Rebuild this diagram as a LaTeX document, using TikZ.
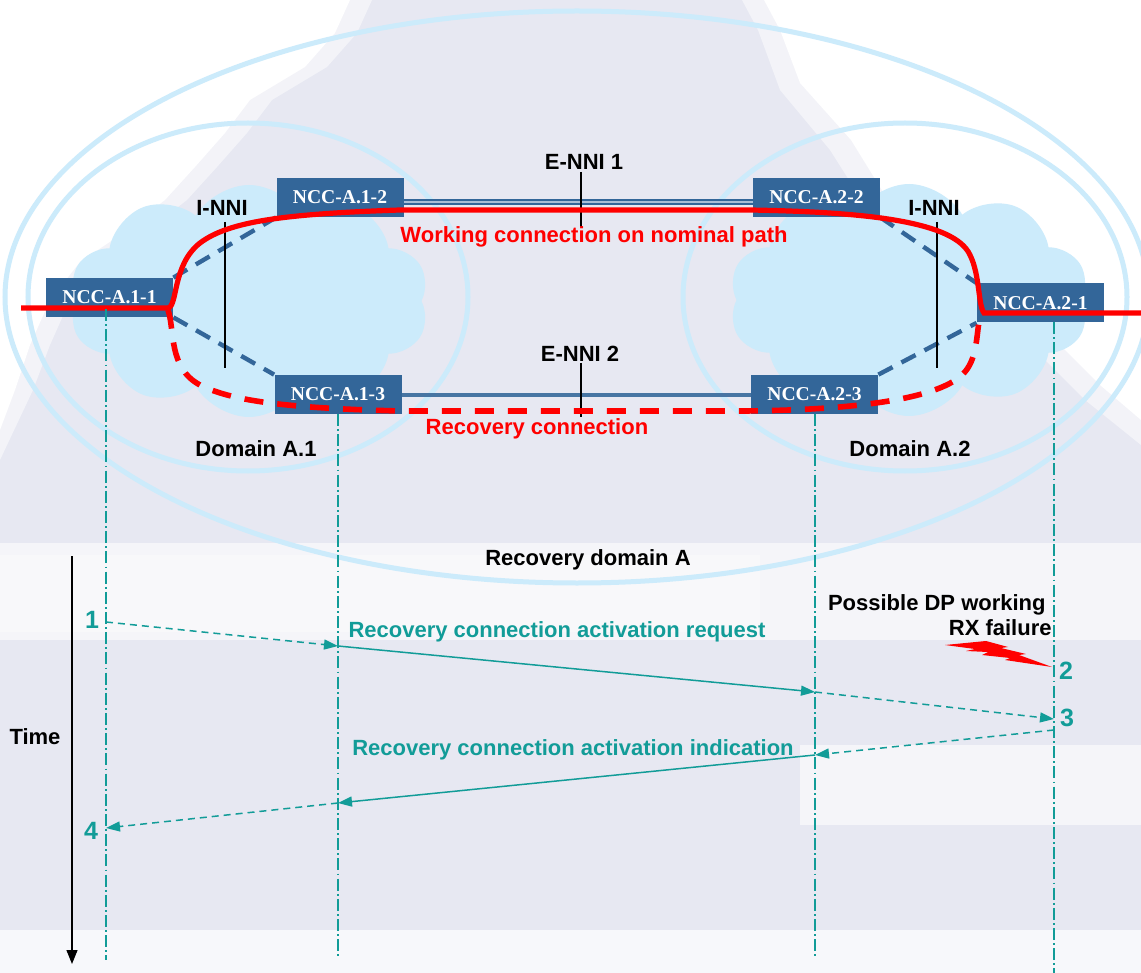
\documentclass[tikz,border=0pt]{standalone}
\usepackage{fontspec}
\setmainfont{Liberation Sans}
\newfontfamily\boxfont{Liberation Serif}
\usetikzlibrary{arrows.meta,shapes.symbols}
\definecolor{bgcol}{HTML}{E7E8F2}
\definecolor{domainblue}{HTML}{CCEBFB}
\definecolor{cloudblue}{HTML}{CCEBFB}
\definecolor{nccblue}{HTML}{336699}
\definecolor{ennilight}{HTML}{A9BED6}
\definecolor{linkred}{HTML}{FF0000}
\definecolor{msgteal}{HTML}{129C98}
\begin{document}
\begin{tikzpicture}[x=0.5pt,y=-0.5pt,
  ncc/.style={fill=nccblue,text=white,font=\boxfont\bfseries\fontsize{9.8}{11}\selectfont,
    minimum width=63.5pt,minimum height=19.5pt,inner sep=0pt},
  lbl/.style={font=\bfseries\fontsize{11}{13}\selectfont,inner sep=0pt,text height=7.9pt,text depth=0pt},
  redlbl/.style={lbl,text=linkred},
  msglbl/.style={lbl,text=msgteal},
  num/.style={font=\bfseries\fontsize{12.5}{14}\selectfont,text=msgteal,inner sep=0pt,text height=9pt,text depth=0pt},
  domainring/.style={draw=domainblue,line width=2.5pt},
  cloudbg/.style={cloud,cloud puffs=10,cloud puff arc=120,aspect=1.6,fill=cloudblue,draw=none,
    minimum width=180pt,minimum height=116pt,inner sep=0pt},
  ctrl/.style={draw=nccblue,line width=2.2pt,dash pattern=on 8pt off 5pt},
  working/.style={draw=linkred,line width=2.6pt},
  recovery/.style={draw=linkred,line width=2.8pt,dash pattern=on 9.5pt off 7pt},
  tickline/.style={draw=black,line width=0.8pt},
  lifeline/.style={draw=msgteal,line width=0.7pt,dash pattern=on 6pt off 1.6pt on 0.9pt off 1.6pt},
  msg/.style={draw=msgteal,line width=0.75pt,-{Triangle[length=7pt,width=5pt]}},
  hop/.style={msg,dash pattern=on 3.5pt off 2.5pt},
]
\useasboundingbox (0,0) rectangle (1141,973);

% background with soft white areas
\fill[bgcol] (0,0) rectangle (1141,973);
\fill[white,opacity=0.5] (0,0) -- (372,0) -- (357,33) -- (327,67) -- (272,100) -- (247,133) -- (217,167)
  -- (187,200) -- (142,235) -- (100,262) -- (70,300) -- (50,345) -- (33,390) -- (0,460) -- cycle;
\fill[white] (0,0) -- (350,0) -- (335,33) -- (305,67) -- (250,100) -- (225,133) -- (195,167)
  -- (165,200) -- (120,235) -- (80,262) -- (50,300) -- (30,345) -- (15,390) -- (0,430) -- cycle;
\fill[white,opacity=0.5] (742,0) -- (1141,0) -- (1141,445) -- (1085,400) -- (1045,360) -- (1005,325)
  -- (925,255) -- (868,210) -- (830,150) -- (780,90) -- (758,30) -- cycle;
\fill[white] (764,0) -- (1141,0) -- (1141,420) -- (1100,385) -- (1060,345) -- (1020,310)
  -- (940,240) -- (888,200) -- (851,140) -- (800,83) -- (780,30) -- cycle;
\fill[white,opacity=0.6] (0,543) rectangle (1141,640);
\fill[white,opacity=0.3] (0,555) rectangle (760,632);
\fill[white,opacity=0.6] (800,745) rectangle (1141,825);
\fill[white,opacity=0.7] (0,930) rectangle (1141,973);

% recovery domain and sub-domains
\draw[domainring] (577,297) ellipse [x radius=572, y radius=286];
\draw[domainring] (248,297) ellipse [x radius=220, y radius=174];
\draw[domainring] (905,297) ellipse [x radius=222, y radius=174];
\node[cloudbg] (cloud1) at (249,301) {};
\node[cloudbg] (cloud2) at (909,300) {};

% network control components (placed first so the links can reach them)
\path (109.5,297.5) coordinate (a11c) (340,197.5) coordinate (a12c) (338,394.5) coordinate (a13c)
      (816.5,197.5) coordinate (a22c) (814.5,394.5) coordinate (a23c) (1040.5,303) coordinate (a21c);
\path node[ncc,fill=none,text=white!0] (a11) at (a11c) {NCC-A.1-1}
      node[ncc,fill=none,text=white!0] (a12) at (a12c) {NCC-A.1-2}
      node[ncc,fill=none,text=white!0] (a13) at (a13c) {NCC-A.1-3}
      node[ncc,fill=none,text=white!0] (a22) at (a22c) {NCC-A.2-2}
      node[ncc,fill=none,text=white!0] (a23) at (a23c) {NCC-A.2-3}
      node[ncc,fill=none,text=white!0] (a21) at (a21c) {NCC-A.2-1};

% intra-domain control links
\draw[ctrl] (a11.north east) -- (a12.south west);
\draw[ctrl] (a11.south east) -- (a13.north west);
\draw[ctrl] (a22.south east) -- (a21.north west);
\draw[ctrl] (a23.north east) -- (a21.south west);

% boxes drawn over the dashed links
\node[ncc] at (a11c) {NCC-A.1-1};
\node[ncc] at (a12c) {NCC-A.1-2};
\node[ncc] at (a13c) {NCC-A.1-3};
\node[ncc] at (a22c) {NCC-A.2-2};
\node[ncc] at (a23c) {NCC-A.2-3};
\node[ncc] at (a21c) {NCC-A.2-1};

% inter-domain links
\draw[draw=nccblue,line width=1.1pt,double=ennilight,double distance=0.9pt]
  ([yshift=-2.25pt]a12.east) -- ([yshift=-2.25pt]a22.west);
\draw[draw=nccblue!90!white,line width=2pt] (a13.east) -- (a23.west);

% interface markers
\coordinate (e1t) at (581,172); \coordinate (e1b) at (581,227);
\coordinate (e2t) at (581,363); \coordinate (e2b) at (581,417);
\coordinate (i1t) at (225,222); \coordinate (i1b) at (225,368);
\coordinate (i2t) at (937,222); \coordinate (i2b) at (937,368);
\draw[tickline] (e1t) -- (e1b);
\draw[tickline] (e2t) -- (e2b);
\draw[tickline] (i1t) -- (i1b);
\draw[tickline] (i2t) -- (i2b);

% working and recovery connections
\coordinate (wsrc) at (21,308);
\coordinate (wdst) at (1141,313);
\draw[working] (wsrc) -- (168,308)
  .. controls (178,306) and (172,265) .. (200,243)
  .. controls (228,222) and (280,214) .. (400,210) -- (750,210)
  .. controls (870,212) and (955,222) .. (970,255)
  .. controls (980,275) and (978,305) .. (984,313) -- (wdst);
\draw[recovery] (168,310)
  .. controls (175,330) and (168,368) .. (200,385)
  .. controls (230,400) and (280,408) .. (400,411) -- (745,411)
  .. controls (850,410) and (935,400) .. (962,375)
  .. controls (978,360) and (976,335) .. (980,316);

% labels of the network part
\node[lbl] (lenni1) at (584,162) {E-NNI 1};
\node[lbl] (lenni2) at (580,354) {E-NNI 2};
\node[lbl] (linni1) at (222,208) {I-NNI};
\node[lbl] (linni2) at (934,208) {I-NNI};
\node[redlbl] (lwork) at (594,235) {Working connection on nominal path};
\node[redlbl] (lrec) at (537,427) {Recovery connection};
\node[lbl] (ldom1) at (256,449) {Domain A.1};
\node[lbl] (ldom2) at (910,449) {Domain A.2};
\node[lbl] (lrdom) at (588,558) {Recovery domain A};

% lifelines
\coordinate (l1t) at (106,309);  \coordinate (l1b) at (106,960);
\coordinate (l2t) at (338,414);  \coordinate (l2b) at (338,958);
\coordinate (l3t) at (815,414);  \coordinate (l3b) at (815,958);
\coordinate (l4t) at (1054,322); \coordinate (l4b) at (1054,973);
\draw[lifeline] (l1t) -- (l1b);
\draw[lifeline] (l2t) -- (l2b);
\draw[lifeline] (l3t) -- (l3b);
\draw[lifeline] (l4t) -- (l4b);

% time axis
\coordinate (tt) at (72,556); \coordinate (tb) at (72,964);
\draw[line width=0.6pt,-{Triangle[length=7pt,width=5.5pt]}] (tt) -- (tb);
\node[lbl] (ltime) at (35,737) {Time};

% message sequence
\coordinate (m1s) at (106,622);
\coordinate (m1e) at (338,646);
\coordinate (m2e) at (815,692);
\coordinate (m3e) at (1054,719);
\coordinate (m4s) at (1054,730);
\coordinate (m4e) at (815,755);
\coordinate (m5e) at (338,803);
\coordinate (m6e) at (106,828);
\draw[hop] (m1s) -- (m1e);
\draw[msg] (m1e) -- (m2e);
\draw[hop] (m2e) -- (m3e);
\draw[hop] (m4s) -- (m4e);
\draw[msg] (m4e) -- (m5e);
\draw[hop] (m5e) -- (m6e);

\node[msglbl] (lreq) at (557,630) {Recovery connection activation request};
\node[msglbl] (lind) at (573,748) {Recovery connection activation indication};
\node[num] (n1) at (92,619) {1};
\node[num] (n2) at (1066,670) {2};
\node[num] (n3) at (1067,717) {3};
\node[num] (n4) at (91,830) {4};

% failure
\node[lbl,anchor=east] (lfail1) at (1046,603) {Possible DP working};
\node[lbl,anchor=east] (lfail2) at (1052,628) {RX failure};
\fill[linkred] (945,645) -- (986,641) -- (1008,647) -- (1001,648) -- (1026,654) -- (1019,655)
  -- (1052,667) -- (1005,660) -- (1010,658) -- (982,655) -- (988,652) -- (966,651)
  -- (975,649) -- cycle;
\end{tikzpicture}
\end{document}
